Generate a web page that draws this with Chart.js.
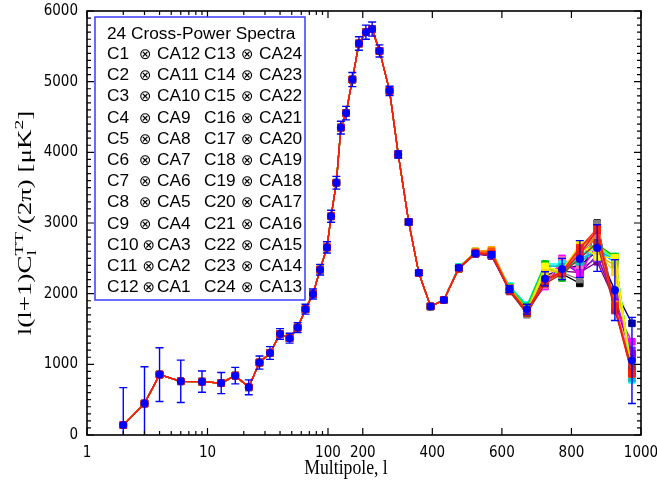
<!DOCTYPE html>
<html><head><meta charset="utf-8">
<script src="https://cdn.jsdelivr.net/npm/chart.js@4.4.0/dist/chart.umd.min.js"></script>
<style>html,body{margin:0;padding:0;background:#fff;} canvas{display:block;}</style>
</head><body>
<canvas id="c" width="657" height="482"></canvas>
<script>
// ---------------- DATA ----------------
const multipoles = [2,3,4,6,9,13,17,22,27,33,40,48,56,65,75,86,98,109,124,137,152,170,189,209,227,248,277,302,332,361,395,433,476,524,570,622,672,724,773,824,874,925,974];
// values common to all 24 cross spectra (l = 2 ... 433)
const sharedLowL = [140,445,855,760,755,735,840,675,1025,1160,1430,1370,1520,1780,1995,2340,2655,3095,3570,4350,4555,5030,5540,5700,5745,5435,4870,3970,3015,2295,1820,1910];
// per-spectrum values for l = 476 ... 974
const tailValues = [
  [2360,2570,2540,2060,1760,2230,2280,2145,3000,1820,900],
  [2355,2565,2545,2050,1700,2200,2300,2200,2990,1850,930],
  [2370,2575,2560,2080,1790,2250,2350,2400,2600,2050,1580],
  [2365,2560,2530,2070,1770,2180,2320,2300,2450,1900,1100],
  [2350,2580,2550,2060,1780,2150,2400,2350,2500,1950,1200],
  [2360,2570,2540,2040,1750,2120,2450,2280,2550,1880,1150],
  [2375,2585,2560,2090,1800,2100,2500,2280,2700,1800,1320],
  [2370,2575,2570,2075,1790,2120,2480,2400,2750,1820,1000],
  [2365,2570,2550,2070,1810,2380,2400,2500,2600,2450,850],
  [2380,2590,2580,2110,1840,2420,2420,2520,2650,2500,780],
  [2370,2575,2560,2100,1830,2400,2380,2450,2620,2480,800],
  [2375,2580,2565,2095,1820,2410,2250,2550,2680,2530,880],
  [2360,2590,2570,2085,1800,2420,2220,2600,2700,2520,870],
  [2355,2600,2580,2080,1780,2390,2260,2620,2680,2500,900],
  [2350,2585,2590,2060,1760,2350,2300,2650,2550,2400,880],
  [2345,2580,2600,2050,1720,2380,2320,2700,2520,2510,860],
  [2350,2590,2610,2070,1740,2300,2340,2680,2600,2300,880],
  [2360,2600,2620,2080,1760,2200,2300,2600,2850,1850,870],
  [2355,2595,2610,2060,1750,2180,2290,2620,2800,1800,900],
  [2360,2580,2590,2050,1740,2160,2310,2640,2880,1780,860],
  [2365,2575,2570,2040,1730,2170,2330,2580,2780,1830,910],
  [2350,2565,2550,2030,1720,2140,2280,2500,2720,1760,950],
  [2360,2570,2560,2050,1750,2190,2300,2560,2900,1800,880],
  [2365,2575,2565,2060,1760,2200,2310,2650,2920,1830,870]
];
// combined spectrum with error bars
const combinedValues = [140,445,855,760,755,735,840,675,1025,1160,1430,1370,1520,1780,1995,2340,2655,3095,3570,4350,4555,5030,5540,5700,5745,5435,4870,3970,3015,2295,1820,1910,2365,2570,2550,2065,1780,2210,2350,2490,2645,2050,1055];
const combinedErrors = [530,520,380,300,150,150,117,105,93,90,75,70,70,70,70,75,80,85,90,90,95,100,95,100,100,85,65,50,40,35,30,30,30,30,40,50,70,100,150,260,330,430,610];
const xTickValues = [1,10,100,200,400,600,800,1000];
const xMinorTickValues = [2,3,4,5,6,7,8,9,20,30,40,50,60,70,80,90];
const xTitle = 'Multipole, l';
const legendTitle = '24 Cross-Power Spectra';
const leftCh = ['C1','C2','C3','C4','C5','C6','C7','C8','C9','C10','C11','C12'];
const leftCA = ['CA12','CA11','CA10','CA9','CA8','CA7','CA6','CA5','CA4','CA3','CA2','CA1'];
const rightCh = ['C13','C14','C15','C16','C17','C18','C19','C20','C21','C22','C23','C24'];
const rightCA = ['CA24','CA23','CA22','CA21','CA20','CA19','CA18','CA17','CA16','CA15','CA14','CA13'];
const seriesColors = ['#000000','#808080','#000080','#800080','#8a2be2','#9400d3','#ff00ff','#ff69b4','#00bfff','#00ffff','#00c0c0','#00ff80','#00c000','#80ff00','#c0c000','#ffff00','#ffd700','#ffa500','#ff8000','#ff4500','#ff6347','#a52a2a','#dc143c','#ff2000'];

// ------------- custom scale: log (1-100) + linear (100-1000) -------------
const LOG_FRAC = 0.435, BREAK = 100, XMAX = 1000;
class HybridScale extends Chart.Scale {
  static id = 'hybrid';
  static defaults = {};
  determineDataLimits() { this.min = 1; this.max = XMAX; }
  buildTicks() { return xTickValues.map(v => ({ value: v })); }
  getLabelForValue(v) { return String(v); }
  _frac(v) {
    if (v <= BREAK) return Math.log10(Math.max(v, 1e-9)) / Math.log10(BREAK) * LOG_FRAC;
    return LOG_FRAC + (v - BREAK) / (XMAX - BREAK) * (1 - LOG_FRAC);
  }
  getPixelForValue(v) { return this.getPixelForDecimal(this._frac(v)); }
  getValueForPixel(p) {
    const d = this.getDecimalForPixel(p);
    if (d <= LOG_FRAC) return Math.pow(BREAK, d / LOG_FRAC);
    return BREAK + (d - LOG_FRAC) / (1 - LOG_FRAC) * (XMAX - BREAK);
  }
}
Chart.register(HybridScale);

// ------------- datasets -------------
const datasets = [];
tailValues.forEach((tail, i) => {
  const vals = sharedLowL.concat(tail);
  datasets.push({
    label: (i < 12 ? leftCh[i] + ' ⊗ ' + leftCA[i] : rightCh[i-12] + ' ⊗ ' + rightCA[i-12]),
    data: multipoles.map((l, k) => ({ x: l, y: vals[k] })),
    borderColor: seriesColors[i], backgroundColor: seriesColors[i],
    borderWidth: 1.3, pointStyle: 'rect', pointRadius: 4.6, pointBorderWidth: 1,
    order: 24 - i, tension: 0
  });
});
datasets.push({
  label: 'combined',
  data: multipoles.map((l, k) => ({ x: l, y: combinedValues[k] })),
  showLine: false, borderColor: '#0000ff', backgroundColor: '#0000ff',
  pointStyle: 'circle', pointRadius: 4, pointBorderWidth: 0, order: 0
});
const COMBINED = datasets.length - 1;

// ------------- plugins -------------
const errorBars = {
  id: 'errorBars',
  beforeDatasetDraw(chart, args) {
    if (args.index !== COMBINED) return;
    const ctx = chart.ctx, y = chart.scales.y, a = chart.chartArea;
    const meta = chart.getDatasetMeta(COMBINED);
    ctx.save();
    ctx.beginPath(); ctx.rect(a.left, a.top, a.right - a.left, a.bottom - a.top); ctx.clip();
    ctx.strokeStyle = '#0000ff'; ctx.lineWidth = 1.4;
    meta.data.forEach((pt, k) => {
      const v = combinedValues[k], e = combinedErrors[k];
      const y1 = y.getPixelForValue(v + e), y2 = y.getPixelForValue(v - e);
      ctx.beginPath();
      ctx.moveTo(pt.x, y1); ctx.lineTo(pt.x, y2);
      ctx.moveTo(pt.x - 4, y1); ctx.lineTo(pt.x + 4, y1);
      ctx.moveTo(pt.x - 4, y2); ctx.lineTo(pt.x + 4, y2);
      ctx.stroke();
    });
    ctx.restore();
  }
};

const frameTicks = {
  id: 'frameTicks',
  afterDraw(chart) {
    const ctx = chart.ctx, a = chart.chartArea, xs = chart.scales.x, ys = chart.scales.y;
    ctx.save();
    ctx.strokeStyle = '#000'; ctx.lineWidth = 1.6;
    ctx.strokeRect(a.left, a.top, a.right - a.left, a.bottom - a.top);
    ctx.lineWidth = 1.2;
    ctx.beginPath();
    const xt = (v, len) => { const p = xs.getPixelForValue(v);
      ctx.moveTo(p, a.bottom); ctx.lineTo(p, a.bottom - len);
      ctx.moveTo(p, a.top); ctx.lineTo(p, a.top + len); };
    xTickValues.forEach(v => xt(v, 7));
    xMinorTickValues.forEach(v => xt(v, 4));
    for (let v = 0; v <= 6000; v += 100) {
      const p = ys.getPixelForValue(v), len = (v % 1000 === 0) ? 7 : 4;
      ctx.moveTo(a.left, p); ctx.lineTo(a.left + len, p);
      ctx.moveTo(a.right, p); ctx.lineTo(a.right - len, p);
    }
    ctx.stroke();
    ctx.restore();
  }
};

// axis titles (Times-like, stretched like the original figure)
const axisTitles = {
  id: 'axisTitles',
  afterDraw(chart) {
    const ctx = chart.ctx, a = chart.chartArea;
    ctx.save();
    ctx.fillStyle = '#000'; ctx.textBaseline = 'alphabetic';
    // x title
    ctx.save();
    ctx.translate(346, 474);
    ctx.scale(1, 1.15);
    ctx.font = '17.7px "Liberation Serif"'; ctx.textAlign = 'center';
    ctx.fillText(xTitle, 0, 0);
    ctx.restore();
    // y title
    const big = '18px "Liberation Serif"', small = '13px "Liberation Serif"';
    ctx.translate(25, (a.top + a.bottom) / 2);
    ctx.rotate(-Math.PI / 2);
    ctx.scale(1.5, 1);
    ctx.textAlign = 'left';
    const parts = [
      { t: 'l(l+1)C', f: big, dy: 0, adv: true },
      { t: 'l', f: small, dy: 5, adv: false },
      { t: 'TT', f: small, dy: -8, adv: true },
      { t: '/(2π) [μK', f: big, dy: 0, adv: true },
      { t: '2', f: small, dy: -8, adv: true },
      { t: ']', f: big, dy: 0, adv: true }
    ];
    let total = 0;
    parts.forEach(p => { ctx.font = p.f; p.w = ctx.measureText(p.t).width; if (p.adv) total += p.w; });
    let x = -total / 2;
    const base = 6;
    parts.forEach(p => { ctx.font = p.f; ctx.fillText(p.t, x, base + p.dy); if (p.adv) x += p.w; });
    ctx.restore();
  }
};

const legendBox = {
  id: 'legendBox',
  afterDraw(chart) {
    const ctx = chart.ctx;
    ctx.save();
    ctx.fillStyle = '#fff';
    ctx.fillRect(95, 17, 210, 283);
    ctx.strokeStyle = '#3a3aff'; ctx.lineWidth = 1.5;
    ctx.strokeRect(95, 17, 210, 283);
    ctx.fillStyle = '#000'; ctx.textBaseline = 'alphabetic'; ctx.textAlign = 'left';
    const f = '17.3px "Liberation Sans"';
    ctx.font = f;
    ctx.fillText(legendTitle, 107, 39);
    const otimes = '⊗';
    for (let i = 0; i < 12; i++) {
      const yb = 59 + i * 21.2;
      ctx.font = f;
      ctx.fillText(leftCh[i], 107, yb);
      ctx.fillText(leftCA[i], 157, yb);
      ctx.fillText(rightCh[i], 204, yb);
      ctx.fillText(rightCA[i], 259, yb);
      ctx.font = '15px "DejaVu Sans"';
      ctx.fillText(otimes, leftCh[i].length > 2 ? 142.5 : 139, yb);
      ctx.fillText(otimes, 241, yb);
    }
    ctx.restore();
  }
};

const tickFont = { family: '"Liberation Sans Narrow", "DejaVu Sans Condensed", "Liberation Sans", sans-serif', size: 15 };
new Chart(document.getElementById('c'), {
  type: 'line',
  data: { datasets },
  options: {
    responsive: false, animation: false, devicePixelRatio: 1,
    layout: { padding: { top: 11, right: 16, left: 0, bottom: 0 } },
    plugins: { legend: { display: false }, tooltip: { enabled: false } },
    scales: {
      x: {
        type: 'hybrid', position: 'bottom',
        grid: { display: false, drawTicks: false }, border: { display: false },
        ticks: { font: tickFont, color: '#000', padding: 9, autoSkip: false, maxRotation: 0, minRotation: 0 },
        afterFit(s) { s.height = 47; s.paddingLeft = 0; s.paddingRight = 0; }
      },
      y: {
        type: 'linear', min: 0, max: 6000,
        grid: { display: false, drawTicks: false }, border: { display: false },
        ticks: { stepSize: 1000, font: tickFont, color: '#000', padding: 9, callback: v => String(v) },
        afterFit(s) { s.width = 87; s.paddingTop = 0; s.paddingBottom = 0; }
      }
    }
  },
  plugins: [errorBars, frameTicks, axisTitles, legendBox]
});
</script>
</body></html>
